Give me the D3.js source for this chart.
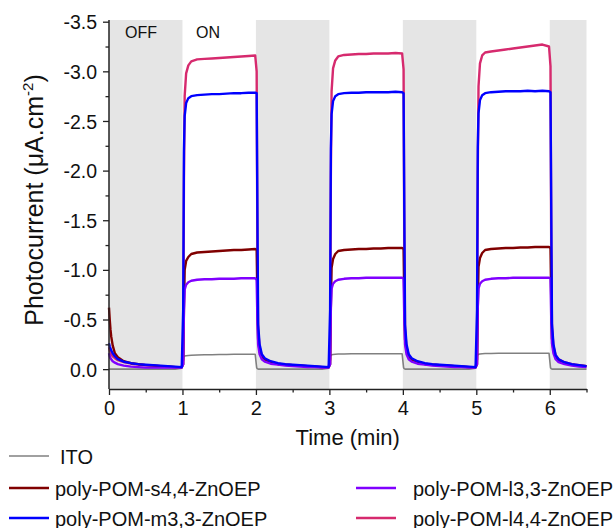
<!DOCTYPE html>
<html>
<head>
<meta charset="utf-8">
<script src="https://cdn.jsdelivr.net/npm/d3@7"></script>
<style>
  html, body { margin: 0; padding: 0; background: #fff; }
  svg { display: block; font-family: Arial, "Liberation Sans", sans-serif; }
</style>
</head>
<body>
<svg id="chart" width="616" height="528"></svg>
<script>
// ---------- DATA ----------
const times = [
  0, 0.01, 0.02, 0.03, 0.05, 0.08, 0.12, 0.2, 0.3, 0.4, 0.5, 0.6, 0.7, 0.8, 0.9, 0.99,
  1.01, 1.02, 1.03, 1.05, 1.08, 1.12, 1.2, 1.3, 1.4, 1.5, 1.6, 1.7, 1.8, 1.9, 1.99,
  2.01, 2.02, 2.03, 2.05, 2.08, 2.12, 2.2, 2.3, 2.4, 2.5, 2.6, 2.7, 2.8, 2.9, 2.99,
  3.01, 3.02, 3.03, 3.05, 3.08, 3.12, 3.2, 3.3, 3.4, 3.5, 3.6, 3.7, 3.8, 3.9, 3.99,
  4.01, 4.02, 4.03, 4.05, 4.08, 4.12, 4.2, 4.3, 4.4, 4.5, 4.6, 4.7, 4.8, 4.9, 4.99,
  5.01, 5.02, 5.03, 5.05, 5.08, 5.12, 5.2, 5.3, 5.4, 5.5, 5.6, 5.7, 5.8, 5.9, 5.99,
  6.01, 6.02, 6.03, 6.05, 6.08, 6.12, 6.2, 6.3, 6.4, 6.5
];

const ito = [
  0, 0, 0, 0, 0, 0, 0, 0, 0, 0, 0, 0, 0, 0, 0, -0.01,
  -0.12, -0.13, -0.132, -0.135, -0.137, -0.14, -0.142, -0.145, -0.145, -0.147, -0.148, -0.15, -0.15, -0.15, -0.15,
  -0.015, -0.005, 0, 0, 0, 0, 0, 0, 0, 0, 0, 0, 0, 0, -0.01,
  -0.13, -0.14, -0.145, -0.148, -0.15, -0.152, -0.153, -0.155, -0.155, -0.155, -0.155, -0.155, -0.155, -0.155, -0.155,
  -0.015, -0.005, 0, 0, 0, 0, 0, 0, 0, 0, 0, 0, 0, 0, -0.01,
  -0.135, -0.145, -0.15, -0.152, -0.155, -0.157, -0.158, -0.16, -0.16, -0.16, -0.16, -0.16, -0.16, -0.16, -0.16,
  -0.015, -0.005, 0, 0, 0, 0, 0, 0, 0, 0
];

const s44 = [
  -0.62, -0.50, -0.40, -0.33, -0.24, -0.16, -0.12, -0.08, -0.06, -0.05, -0.04, -0.035, -0.03, -0.025, -0.02, -0.02,
  -0.05, -0.60, -1.00, -1.09, -1.13, -1.16, -1.175, -1.18, -1.185, -1.19, -1.195, -1.20, -1.20, -1.205, -1.21,
  -1.20, -0.70, -0.30, -0.18, -0.12, -0.09, -0.065, -0.05, -0.045, -0.04, -0.035, -0.03, -0.025, -0.02, -0.02,
  -0.05, -0.62, -1.02, -1.11, -1.16, -1.19, -1.20, -1.205, -1.21, -1.21, -1.215, -1.215, -1.22, -1.22, -1.22,
  -1.21, -0.70, -0.30, -0.18, -0.12, -0.09, -0.065, -0.05, -0.045, -0.04, -0.035, -0.03, -0.025, -0.02, -0.02,
  -0.05, -0.62, -1.03, -1.12, -1.17, -1.20, -1.21, -1.215, -1.22, -1.22, -1.225, -1.225, -1.23, -1.23, -1.23,
  -1.22, -0.72, -0.31, -0.19, -0.12, -0.085, -0.06, -0.045, -0.035, -0.03
];

const m33 = [
  -0.26, -0.23, -0.21, -0.19, -0.16, -0.13, -0.10, -0.075, -0.06, -0.05, -0.045, -0.04, -0.035, -0.03, -0.025, -0.02,
  -0.60, -2.20, -2.55, -2.68, -2.73, -2.75, -2.76, -2.765, -2.77, -2.77, -2.775, -2.78, -2.78, -2.785, -2.785,
  -2.78, -1.60, -0.45, -0.25, -0.15, -0.11, -0.08, -0.06, -0.05, -0.045, -0.04, -0.035, -0.03, -0.025, -0.02,
  -0.60, -2.22, -2.57, -2.70, -2.75, -2.77, -2.78, -2.785, -2.785, -2.79, -2.79, -2.79, -2.79, -2.795, -2.79,
  -2.78, -1.60, -0.45, -0.25, -0.15, -0.11, -0.08, -0.06, -0.05, -0.045, -0.04, -0.035, -0.03, -0.025, -0.02,
  -0.60, -2.23, -2.58, -2.71, -2.76, -2.78, -2.79, -2.795, -2.80, -2.80, -2.80, -2.805, -2.80, -2.805, -2.80,
  -2.79, -1.62, -0.46, -0.25, -0.14, -0.10, -0.07, -0.05, -0.04, -0.03
];

const l33 = [
  -0.16, -0.13, -0.11, -0.10, -0.08, -0.065, -0.05, -0.035, -0.025, -0.02, -0.015, -0.015, -0.015, -0.015, -0.015, -0.015,
  -0.05, -0.60, -0.80, -0.85, -0.875, -0.89, -0.90, -0.905, -0.905, -0.91, -0.91, -0.91, -0.915, -0.915, -0.915,
  -0.90, -0.50, -0.25, -0.15, -0.10, -0.075, -0.055, -0.045, -0.035, -0.03, -0.025, -0.02, -0.02, -0.015, -0.015,
  -0.05, -0.62, -0.81, -0.86, -0.885, -0.90, -0.91, -0.915, -0.915, -0.92, -0.92, -0.92, -0.92, -0.92, -0.92,
  -0.91, -0.50, -0.25, -0.15, -0.10, -0.075, -0.055, -0.045, -0.035, -0.03, -0.025, -0.02, -0.02, -0.015, -0.015,
  -0.05, -0.62, -0.81, -0.86, -0.885, -0.90, -0.91, -0.915, -0.915, -0.92, -0.92, -0.92, -0.92, -0.92, -0.92,
  -0.91, -0.51, -0.26, -0.16, -0.10, -0.07, -0.05, -0.035, -0.025, -0.02
];

const l44 = [
  -0.22, -0.19, -0.17, -0.15, -0.13, -0.11, -0.09, -0.07, -0.055, -0.045, -0.04, -0.035, -0.03, -0.025, -0.02, -0.02,
  -0.10, -1.90, -2.75, -2.98, -3.06, -3.10, -3.12, -3.125, -3.13, -3.135, -3.14, -3.145, -3.15, -3.155, -3.16,
  -3.00, -1.20, -0.40, -0.22, -0.14, -0.10, -0.07, -0.055, -0.045, -0.04, -0.035, -0.03, -0.025, -0.02, -0.02,
  -0.10, -1.95, -2.80, -3.03, -3.11, -3.15, -3.165, -3.17, -3.175, -3.175, -3.18, -3.18, -3.18, -3.185, -3.18,
  -3.02, -1.20, -0.40, -0.22, -0.14, -0.10, -0.07, -0.055, -0.045, -0.04, -0.035, -0.03, -0.025, -0.02, -0.02,
  -0.10, -2.00, -2.85, -3.08, -3.16, -3.19, -3.20, -3.21, -3.22, -3.23, -3.24, -3.25, -3.26, -3.27, -3.25,
  -3.05, -1.25, -0.42, -0.23, -0.14, -0.10, -0.07, -0.05, -0.04, -0.03
];

const seriesNames = ["ITO", "poly-POM-s4,4-ZnOEP", "poly-POM-m3,3-ZnOEP", "poly-POM-l3,3-ZnOEP", "poly-POM-l4,4-ZnOEP"];
const seriesValues = [ito, s44, m33, l33, l44];
const seriesColors = ["#808080", "#800000", "#0000ff", "#8000ff", "#d62a6e"];
const drawOrder = [0, 4, 1, 3, 2];

const offPeriods = [[0, 1], [2, 3], [4, 5], [6, 6.5]];
const xMajorTicks = [0, 1, 2, 3, 4, 5, 6];
const xMinorTicks = [0.5, 1.5, 2.5, 3.5, 4.5, 5.5, 6.5];
const yMajorTicks = [0, -0.5, -1.0, -1.5, -2.0, -2.5, -3.0, -3.5];
const yMinorTicks = [-0.25, -0.75, -1.25, -1.75, -2.25, -2.75, -3.25];

// ---------- CHART ----------
const svg = d3.select("#chart");
const pLeft = 109, pRight = 586.5, pTop = 21.7, pBottom = 389;

const x = d3.scaleLinear().domain([0, 6.5]).range([pLeft, pRight]);
const y = d3.scaleLinear().domain([0.2, -3.5]).range([pBottom, pTop]);

// OFF bands
svg.append("g").selectAll("rect").data(offPeriods).join("rect")
  .attr("x", d => x(d[0]))
  .attr("width", d => x(d[1]) - x(d[0]))
  .attr("y", pTop - 1.7)
  .attr("height", pBottom - pTop + 1.7)
  .attr("fill", "#e5e5e5");

// Lines
const line = d3.line().x((d, i) => x(times[i])).y(d => y(d));
svg.append("g").selectAll("path").data(drawOrder).join("path")
  .attr("d", k => line(seriesValues[k]))
  .attr("fill", "none")
  .attr("stroke", k => seriesColors[k])
  .attr("stroke-width", k => k === 0 ? 1.6 : 2.4)
  .attr("stroke-linejoin", "round");

// Axes
const fmt = d => d.toFixed(1);
const yAxis = svg.append("g").attr("transform", `translate(${pLeft},0)`)
  .call(d3.axisLeft(y).tickValues(yMajorTicks).tickSize(6).tickSizeOuter(0).tickFormat(fmt));
svg.append("g").attr("transform", `translate(${pLeft},0)`)
  .call(d3.axisLeft(y).tickValues(yMinorTicks).tickSize(3.5).tickSizeOuter(0).tickFormat(""))
  .select(".domain").remove();
const xAxis = svg.append("g").attr("transform", `translate(0,${pBottom})`)
  .call(d3.axisBottom(x).tickValues(xMajorTicks).tickSize(6).tickSizeOuter(0).tickFormat(d => d));
svg.append("g").attr("transform", `translate(0,${pBottom})`)
  .call(d3.axisBottom(x).tickValues(xMinorTicks).tickSize(3.5).tickSizeOuter(0).tickFormat(""))
  .select(".domain").remove();

svg.selectAll(".domain").attr("stroke", "#222").attr("stroke-width", 1.5);
svg.selectAll(".tick line").attr("stroke", "#222").attr("stroke-width", 1.3);
yAxis.select(".domain").attr("d", `M0,${pBottom}V${pTop - 1.7}`);
yAxis.selectAll(".tick text").attr("font-size", 19.5).attr("fill", "#111")
  .attr("font-family", "Arial, 'Liberation Sans', sans-serif").attr("x", -12).attr("dy", "0.36em");
xAxis.selectAll(".tick text").attr("font-size", 20).attr("fill", "#111")
  .attr("font-family", "Arial, 'Liberation Sans', sans-serif").attr("y", 11).attr("dy", "0.75em");

// Axis titles
svg.append("text")
  .attr("x", (pLeft + pRight) / 2).attr("y", 445)
  .attr("text-anchor", "middle").attr("font-size", 22).attr("fill", "#111")
  .text("Time (min)");

const yt = svg.append("text")
  .attr("transform", `translate(43,200) rotate(-90)`)
  .attr("text-anchor", "middle").attr("font-size", 25).attr("fill", "#111");
yt.append("tspan").text("Photocurrent (μA.cm");
yt.append("tspan").attr("font-size", 15).attr("dy", -10).text("-2");
yt.append("tspan").attr("dy", 10).text(")");

// ON/OFF labels
svg.append("text").attr("x", 125).attr("y", 37.5).attr("font-size", 16).attr("fill", "#111").text("OFF");
svg.append("text").attr("x", 196).attr("y", 37.5).attr("font-size", 16).attr("fill", "#111").text("ON");

// Legend
const legendPos = [
  { x: 9, y: 456, tx: 51 },
  { x: 9, y: 488, tx: 46 },
  { x: 9, y: 518, tx: 46 },
  { x: 356, y: 488, tx: 57 },
  { x: 356, y: 518, tx: 57 }
];
const lg = svg.append("g").selectAll("g").data(seriesNames).join("g")
  .attr("transform", (d, i) => `translate(${legendPos[i].x},${legendPos[i].y})`);
lg.append("line").attr("x1", 0).attr("x2", 40).attr("y1", 0).attr("y2", 0)
  .attr("stroke", (d, i) => seriesColors[i]).attr("stroke-width", (d, i) => i === 0 ? 1.6 : 2.4);
lg.append("text").attr("x", (d, i) => legendPos[i].tx).attr("y", 7.5)
  .attr("font-size", 20).attr("fill", "#111").text(d => d);
</script>
</body>
</html>
